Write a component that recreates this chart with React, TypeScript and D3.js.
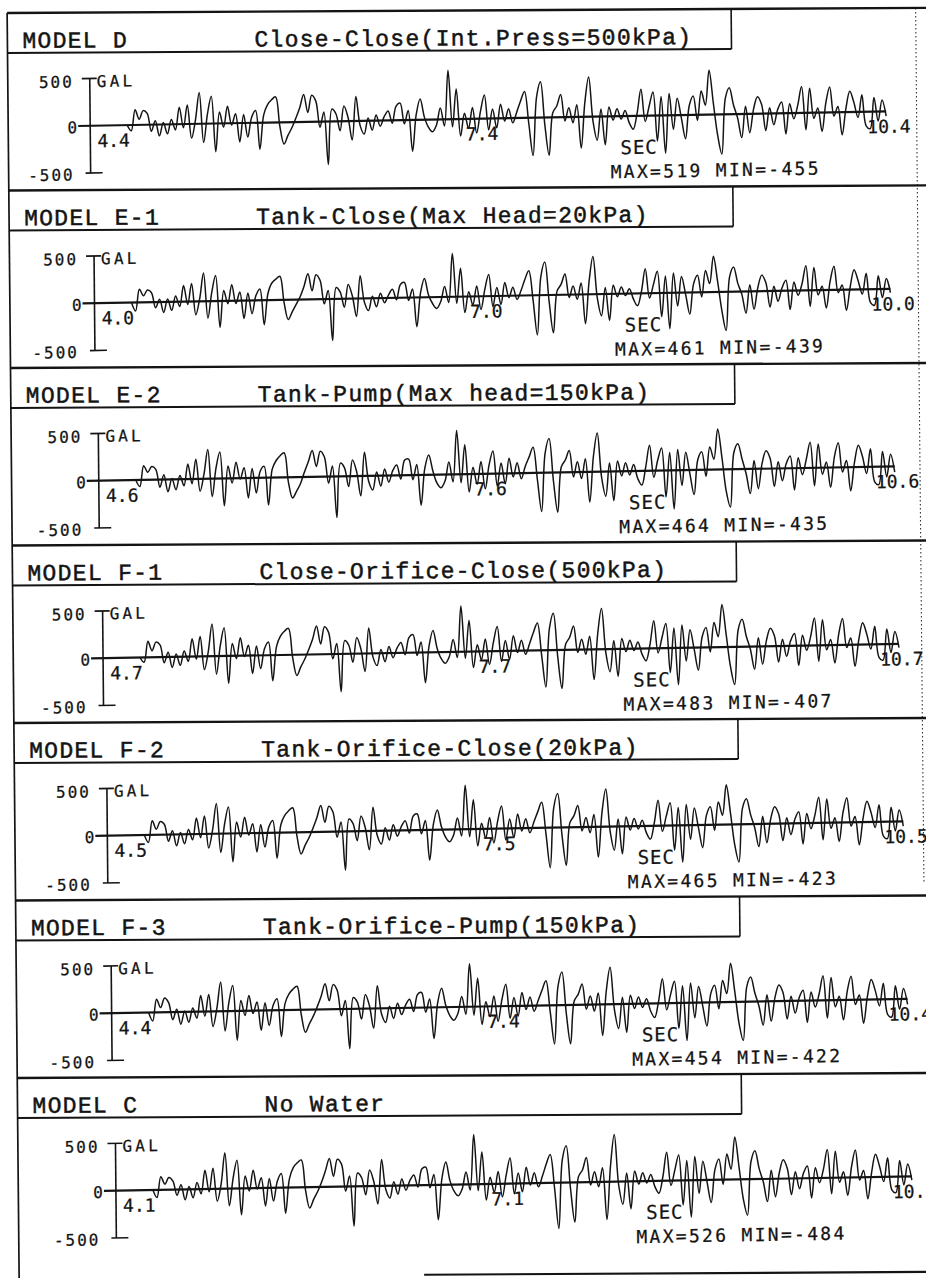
import * as d3 from "d3";

// panel labels
const models = ["MODEL D", "MODEL E-1", "MODEL E-2", "MODEL F-1", "MODEL F-2", "MODEL F-3", "MODEL C"];
const conditions = [
  "Close-Close(Int.Press=500kPa)",
  "Tank-Close(Max Head=20kPa)",
  "Tank-Pump(Max head=150kPa)",
  "Close-Orifice-Close(500kPa)",
  "Tank-Orifice-Close(20kPa)",
  "Tank-Orifice-Pump(150kPa)",
  "No Water",
];
const startTimes = [4.4, 4.0, 4.6, 4.7, 4.5, 4.4, 4.1];
const maxValues = [519, 461, 464, 483, 465, 454, 526];
const minValues = [-455, -439, -435, -407, -423, -422, -484];
const yTicks = [500, 0, -500];
const windowSec = 6;

// acceleration (gal) at equal time steps
const accD = [
  0, -60, 160, 60, 150, 120, -70, 40, -120, 20,
  -100, 50, -60, 180, -40, 200, -150, 40, 330, -200,
  100, 290, -300, 120, -40, 180, -20, 100, -200, 90,
  -150, 60, 130, -280, 80, 190, 240, 270, -40, -230,
  -140, -60, 40, 150, 290, 100, 280, 220, -60, 100,
  -455, 130, 80, -100, 160, 40, -200, 260, -50, -140,
  30, -100, 60, -60, 40, 100, -30, 150, 180, -40,
  100, -330, 60, 220, 30, -80, -130, -60, 120, -70,
  519, -80, 320, -180, 60, -100, 120, -150, 80, 250,
  -120, 100, -100, 150, -30, 100, -50, 60, 180, 280,
  -60, -400, 220, 380, -80, -400, 50, 120, 240, -40,
  100, -60, 130, -330, 150, 420, -50, -250, 80, -300,
  100, -40, 80, -30, 60, -70, -140, 30, 280, -60,
  100, 250, -270, 200, -400, 230, -150, 180, -30, -250,
  100, 200, -60, 250, 100, 470, 120, -220, -420, 170,
  280, 100, -40, -250, 80, -200, 50, 180, 100, -180,
  60, -120, 40, 120, -220, 100, -60, 80, 280, -180,
  260, -60, 50, -200, 100, 270, -40, 60, -240, 40,
  220, 100, -60, 180, -150, -180, 150, -100, 120, -50,
];
const accE1 = [
  0, -90, 140, 70, 130, 100, -60, 30, -110, 30,
  -90, 60, -50, 170, -30, 190, -140, 30, 300, -180,
  90, 270, -280, 110, -30, 170, -30, 90, -190, 80,
  -140, 50, 120, -260, 70, 180, 220, 250, -30, -210,
  -130, -50, 30, 140, 270, 90, 260, 200, -50, 90,
  -439, 120, 70, -90, 150, 30, -190, 240, -40, -130,
  20, -90, 50, -50, 30, 90, -20, 140, 160, -30,
  90, -310, 50, 200, 20, -70, -120, -50, 110, -60,
  461, -70, 300, -170, 50, -90, 110, -140, 70, 230,
  -110, 90, -90, 140, -20, 90, -40, 50, 170, 260,
  -50, -420, 200, 350, -70, -400, 40, 110, 220, -30,
  90, -50, 120, -310, 140, 400, -40, -230, 70, -280,
  90, -30, 70, -20, 50, -60, -130, 20, 260, -50,
  90, 230, -250, 180, -380, 210, -140, 170, -20, -230,
  90, 180, -50, 230, 90, 380, 110, -200, -410, 160,
  260, 90, -30, -230, 70, -190, 40, 170, 90, -170,
  50, -110, 30, 110, -200, 90, -50, 70, 260, -170,
  240, -50, 40, -190, 90, 250, -30, 50, -220, 30,
  210, 90, -50, 170, -140, -170, 140, -90, 110, -40,
];
const accE2 = [
  0, -70, 150, 80, 140, 110, -80, 50, -130, 10,
  -110, 40, -70, 160, -50, 210, -130, 50, 310, -190,
  110, 280, -290, 130, -50, 170, -10, 110, -210, 100,
  -160, 70, 120, -290, 90, 180, 230, 260, -50, -220,
  -150, -70, 50, 160, 280, 110, 270, 210, -70, 110,
  -435, 140, 90, -110, 170, 50, -210, 250, -60, -150,
  40, -110, 70, -70, 50, 110, -40, 160, 170, -50,
  110, -320, 70, 210, 40, -90, -140, -70, 130, -80,
  464, -90, 310, -190, 70, -110, 130, -160, 90, 240,
  -130, 110, -110, 160, -40, 110, -60, 70, 170, 270,
  -70, -410, 210, 360, -90, -420, 60, 130, 230, -50,
  110, -70, 140, -320, 160, 410, -60, -260, 90, -310,
  110, -50, 90, -40, 70, -80, -150, 40, 270, -70,
  110, 240, -280, 190, -410, 220, -160, 190, -40, -260,
  110, 190, -70, 240, 110, 430, 130, -230, -400, 180,
  270, 110, -50, -260, 90, -210, 60, 190, 110, -190,
  70, -130, 50, 130, -230, 110, -70, 90, 270, -190,
  250, -70, 60, -210, 110, 260, -50, 70, -250, 50,
  230, 110, -70, 190, -160, -190, 160, -110, 130, -60,
];
const accF1 = [
  0, -50, 170, 70, 160, 130, -60, 50, -110, 30,
  -90, 60, -50, 190, -30, 210, -140, 50, 340, -190,
  110, 300, -290, 130, -30, 190, -10, 110, -190, 100,
  -140, 70, 140, -270, 90, 200, 250, 280, -30, -220,
  -130, -50, 50, 160, 300, 110, 290, 230, -50, 110,
  -400, 140, 90, -90, 170, 50, -190, 270, -40, -130,
  40, -90, 70, -50, 50, 110, -20, 160, 190, -30,
  110, -320, 70, 230, 40, -70, -120, -50, 130, -60,
  483, -70, 330, -170, 70, -90, 130, -140, 90, 260,
  -110, 110, -90, 160, -20, 110, -40, 70, 190, 290,
  -50, -390, 230, 390, -70, -407, 60, 130, 250, -30,
  110, -50, 140, -320, 160, 430, -40, -240, 90, -290,
  110, -30, 90, -20, 70, -60, -130, 40, 290, -50,
  110, 260, -260, 210, -390, 240, -140, 190, -20, -240,
  110, 210, -50, 260, 110, 450, 130, -210, -400, 180,
  290, 110, -30, -240, 90, -190, 60, 190, 110, -170,
  70, -110, 50, 130, -210, 110, -50, 90, 290, -170,
  270, -50, 60, -190, 110, 280, -30, 70, -230, 50,
  230, 110, -50, 190, -140, -170, 160, -90, 130, -40,
];
const accF2 = [
  0, -80, 150, 60, 140, 110, -70, 40, -120, 20,
  -100, 50, -60, 170, -40, 190, -150, 40, 320, -200,
  100, 280, -300, 120, -40, 170, -20, 100, -200, 90,
  -150, 60, 130, -270, 80, 180, 230, 260, -40, -230,
  -140, -60, 40, 150, 280, 100, 270, 210, -60, 100,
  -410, 130, 80, -100, 160, 40, -200, 250, -50, -140,
  30, -100, 60, -60, 40, 100, -30, 150, 170, -40,
  100, -320, 60, 210, 30, -80, -130, -60, 120, -70,
  465, -80, 310, -180, 60, -100, 120, -150, 80, 240,
  -120, 100, -100, 150, -30, 100, -50, 60, 170, 270,
  -60, -423, 210, 360, -80, -400, 50, 120, 230, -40,
  100, -60, 130, -320, 150, 400, -50, -250, 80, -290,
  100, -40, 80, -30, 60, -70, -140, 30, 270, -60,
  100, 240, -260, 190, -390, 220, -150, 180, -30, -240,
  100, 190, -60, 240, 100, 420, 120, -220, -400, 170,
  270, 100, -40, -240, 80, -200, 50, 180, 100, -180,
  60, -120, 40, 120, -220, 100, -60, 80, 270, -180,
  250, -60, 50, -200, 100, 260, -40, 60, -240, 40,
  220, 100, -60, 180, -150, -180, 150, -100, 120, -50,
];
const accF3 = [
  0, -90, 140, 50, 150, 100, -80, 30, -130, 10,
  -110, 40, -70, 170, -50, 180, -160, 30, 310, -210,
  90, 270, -310, 110, -50, 160, -30, 90, -210, 80,
  -160, 50, 120, -280, 70, 170, 220, 250, -50, -240,
  -150, -70, 30, 140, 270, 90, 260, 200, -70, 90,
  -422, 120, 70, -110, 150, 30, -210, 240, -60, -150,
  20, -110, 50, -70, 30, 90, -40, 140, 160, -50,
  90, -330, 50, 200, 20, -90, -140, -70, 110, -80,
  454, -90, 300, -190, 50, -110, 110, -160, 70, 230,
  -130, 90, -110, 140, -40, 90, -60, 50, 160, 260,
  -70, -410, 200, 350, -90, -410, 40, 110, 220, -50,
  90, -70, 120, -330, 140, 390, -60, -260, 70, -300,
  90, -50, 70, -40, 50, -80, -150, 20, 260, -70,
  90, 230, -270, 180, -400, 210, -160, 170, -40, -250,
  90, 180, -70, 230, 90, 410, 110, -230, -410, 160,
  260, 90, -50, -250, 70, -210, 40, 170, 90, -190,
  50, -130, 30, 110, -230, 90, -70, 70, 260, -190,
  240, -70, 40, -210, 90, 250, -50, 50, -250, 30,
  210, 90, -70, 170, -160, -190, 140, -110, 110, -60,
];
const accC = [
  0, -80, 140, 60, 130, 90, -60, 50, -110, 30,
  -90, 70, -50, 200, -30, 220, -130, 50, 380, -180,
  110, 300, -280, 130, -30, 190, -10, 110, -190, 100,
  -140, 70, 150, -270, 90, 210, 260, 290, -30, -220,
  -130, -50, 50, 170, 300, 110, 290, 240, -50, 110,
  -420, 140, 90, -90, 170, 50, -190, 280, -40, -130,
  40, -90, 70, -50, 50, 110, -20, 170, 190, -30,
  110, -370, 70, 240, 40, -70, -120, -50, 130, -60,
  526, -70, 340, -170, 70, -90, 130, -140, 90, 270,
  -110, 110, -90, 170, -20, 110, -40, 70, 200, 300,
  -50, -484, 240, 390, -70, -420, 60, 130, 260, -30,
  110, -50, 150, -400, 170, 500, -40, -240, 90, -290,
  110, -30, 90, -20, 70, -60, -130, 40, 300, -50,
  110, 270, -260, 210, -390, 250, -140, 200, -20, -240,
  110, 220, -50, 270, 110, 450, 130, -210, -380, 190,
  300, 110, -30, -240, 90, -190, 60, 200, 110, -170,
  70, -110, 50, 130, -210, 110, -50, 90, 300, -170,
  280, -50, 60, -190, 110, 290, -30, 70, -230, 50,
  240, 110, -50, 200, -140, -170, 170, -90, 130, -40,
];
const series = [accD, accE1, accE2, accF1, accF2, accF3, accC];

const W = 926;
const H = 1278;
const TOP0 = 13;
const PANEL_H = 177.5;
const INK = "#141414";
const MONO_SERIF = '"Liberation Mono", "Courier New", monospace';
const PLOTTER = '"DejaVu Sans Mono", monospace';
const fmt = d3.format(".1f");

const Panel = ({ k }: { k: number }) => {
  const top = TOP0 + PANEL_H * k;
  const ax = 89 + 2.6 * k;
  const t0 = startTimes[k];
  const vals = series[k];

  const x = d3.scaleLinear().domain([t0, t0 + windowSec]).range([ax + 37, ax + 796]);
  const y = d3.scaleLinear().domain([-500, 500]).range([top + 160.5, top + 66]);
  const step = d3.scaleLinear().domain([0, vals.length - 1]).range([t0, t0 + windowSec]);
  const line = d3
    .line<number>()
    .x((d, i) => x(step(i)))
    .y((d) => y(d))
    .curve(d3.curveCatmullRom.alpha(0.5));

  const y0 = y(0);
  const skew = `translate(${ax},${y0}) skewY(-0.72) translate(${-ax},${-y0})`;
  const tTicks = [t0, t0 + windowSec / 2, t0 + windowSec];

  const plotText = { fontFamily: PLOTTER, fill: INK, stroke: INK, strokeWidth: 0.25 };

  return (
    <g>
      {/* title box */}
      <line x1={7} x2={W} y1={top} y2={top} stroke={INK} strokeWidth={2.4} />
      <line x1={7} x2={731} y1={top + 40} y2={top + 40} stroke={INK} strokeWidth={2} />
      <line x1={731} x2={731} y1={top} y2={top + 40} stroke={INK} strokeWidth={1.6} />
      <text x={22} y={top + 35} fontFamily={MONO_SERIF} fontSize={23} letterSpacing={1.3} fill={INK} stroke={INK} strokeWidth={0.5}>
        {models[k]}
      </text>
      <text x={254} y={top + 35} fontFamily={MONO_SERIF} fontSize={23} letterSpacing={1.3} fill={INK} stroke={INK} strokeWidth={0.5}>
        {conditions[k]}
      </text>

      <g transform={skew}>
        <line x1={ax} x2={ax} y1={y(500)} y2={y(-500)} stroke={INK} strokeWidth={1.6} />
        <line x1={ax - 8} x2={ax + 7} y1={y(500)} y2={y(500)} stroke={INK} strokeWidth={1.6} />
        <line x1={ax - 5} x2={ax + 12} y1={y(-500)} y2={y(-500)} stroke={INK} strokeWidth={1.6} />
        <line x1={ax - 12} x2={x(t0 + windowSec)} y1={y0} y2={y0} stroke={INK} strokeWidth={2.2} />

        {yTicks.map((v) => (
          <text
            key={v}
            x={v === 0 ? ax - 11 : ax - 16}
            y={y(v) + (v === 500 ? 8.5 : 7)}
            textAnchor="end"
            fontSize={16}
            letterSpacing={2}
            {...plotText}
          >
            {v}
          </text>
        ))}
        <text x={ax + 7} y={y(500) + 8.5} fontSize={16} letterSpacing={3.2} {...plotText}>
          GAL
        </text>

        {tTicks.map((t, i) => (
          <text
            key={i}
            x={i === 0 ? ax + 7 : i === 1 ? x(t) - 8.5 : x(t) - 19}
            y={y0 + 21.5}
            textAnchor={i === 1 ? "end" : "start"}
            fontSize={18}
            {...plotText}
          >
            {fmt(t)}
          </text>
        ))}

        <text x={ax + 530} y={y0 + 38} fontSize={19} letterSpacing={1} {...plotText}>
          SEC
        </text>
        <text x={ax + 520} y={y0 + 62} fontSize={18} letterSpacing={2.3} {...plotText}>
          {`MAX=${maxValues[k]} MIN=${minValues[k]}`}
        </text>

        <path d={line(vals) ?? ""} fill="none" stroke={INK} strokeWidth={1.5} strokeLinejoin="round" />
      </g>
    </g>
  );
};

export default function App() {
  return (
    <svg
      width={W}
      height={H}
      viewBox={`0 0 ${W} ${H}`}
      style={{ position: "absolute", left: 0, top: 0, display: "block", background: "#fff" }}
    >
      <g transform="matrix(1,-0.0055,0.0095,1,0,0)">
        <line x1={7} x2={7} y1={TOP0} y2={H + 20} stroke={INK} strokeWidth={1.7} />
        <line
          x1={915.5}
          x2={915.5}
          y1={TOP0}
          y2={888}
          stroke="#333"
          strokeWidth={1.1}
          strokeDasharray="1.5 2.5"
        />
        {models.map((m, k) => (
          <Panel key={m} k={k} />
        ))}
        <line x1={412} x2={W + 10} y1={1277} y2={1277} stroke={INK} strokeWidth={2.2} />
      </g>
    </svg>
  );
}
